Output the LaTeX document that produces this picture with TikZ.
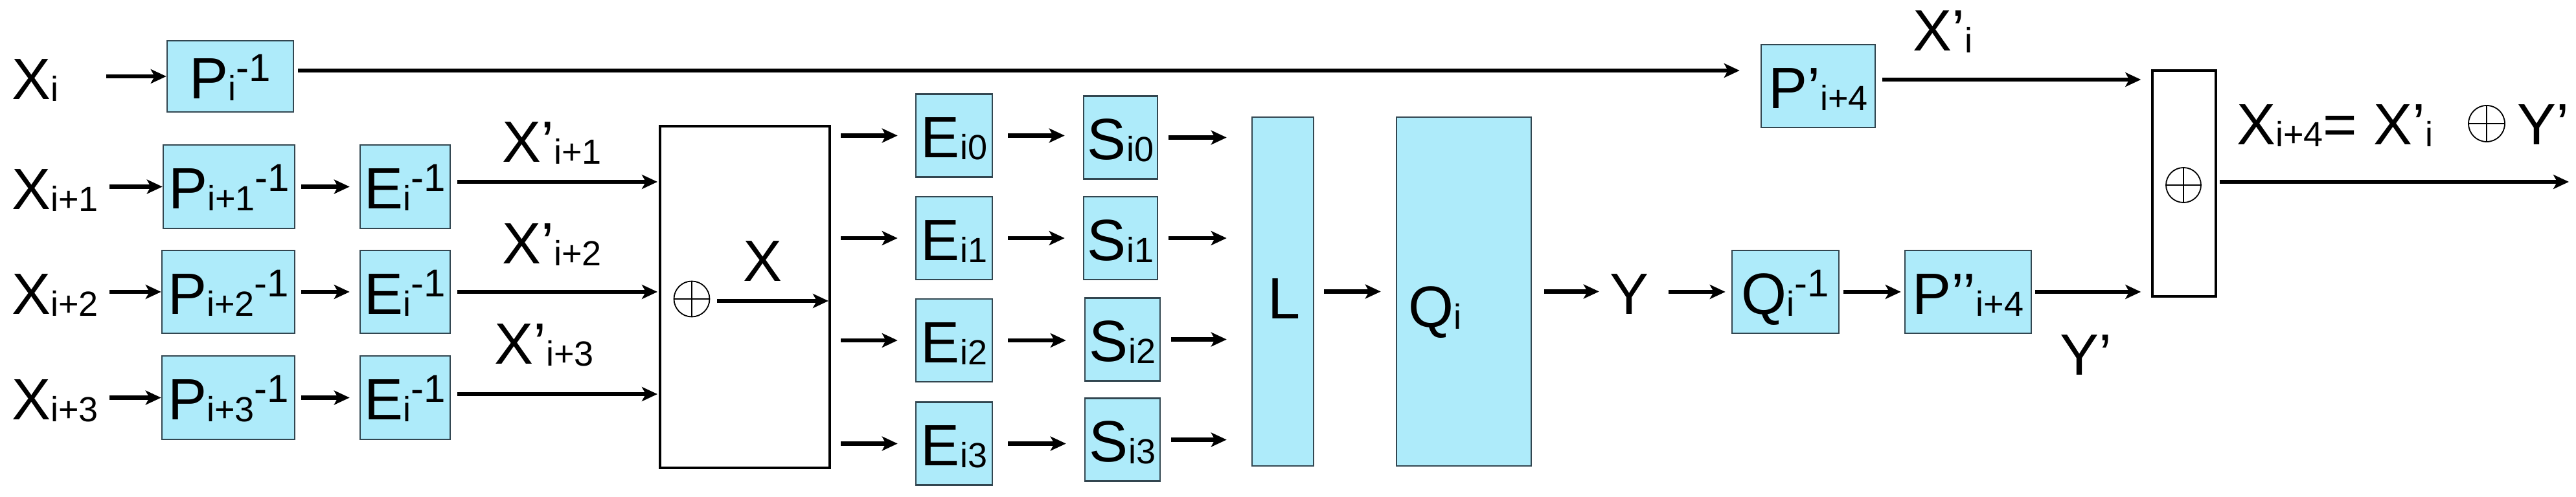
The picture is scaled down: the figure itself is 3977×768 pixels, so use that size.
\documentclass[tikz,border=0pt]{standalone}
\usepackage{fontspec}
\setmainfont{Liberation Sans}
\usetikzlibrary{arrows.meta}
\definecolor{boxfill}{RGB}{174,235,250}
\definecolor{boxline}{RGB}{50,70,80}
\newcommand{\mysub}[1]{\raisebox{-3pt}{\fontsize{54}{60}\selectfont #1}}
\newcommand{\mysup}[1]{\raisebox{27pt}{\fontsize{60}{66}\selectfont #1}}
\tikzset{
  bigfont/.style={font=\fontsize{90}{100}\selectfont},
  txt/.style={bigfont, inner sep=0pt},
  cbox/.style={draw=boxline, fill=boxfill, line width=2.5pt, inner sep=0pt,
    text height=68pt, text depth=0pt, bigfont},
  wbox/.style={draw=black, fill=white, inner sep=0pt},
  arr/.style={line width=6.5pt, -{Stealth[length=24pt,width=22pt,inset=6pt]}},
  xorc/.style={circle, draw=black, line width=1.8pt, minimum size=#1, inner sep=0pt,
    path picture={\draw[line width=2.2pt]
      (path picture bounding box.north) -- (path picture bounding box.south)
      (path picture bounding box.west) -- (path picture bounding box.east);}}
}
\begin{document}
\begin{tikzpicture}[x=1pt,y=-1pt]
\fill[white] (0,0) rectangle (3977,768);
\useasboundingbox (0,0) rectangle (3977,768);

% input labels
\node[txt, anchor=base west] (xi)  at (18,153) {X\mysub{i}};
\node[txt, anchor=base west] (xi1) at (18,323) {X\mysub{i+1}};
\node[txt, anchor=base west] (xi2) at (18,485) {X\mysub{i+2}};
\node[txt, anchor=base west] (xi3) at (18,648) {X\mysub{i+3}};

% P boxes
\node[cbox, minimum width=195pt, minimum height=110pt] (pi) at (355.5,118) {P\mysub{i}\mysup{-1}};
\node[cbox, minimum width=203pt, minimum height=129pt] (p1) at (353.5,288.5) {P\mysub{i+1}\mysup{-1}};
\node[cbox, minimum width=205pt, minimum height=128pt] (p2) at (352.5,451) {P\mysub{i+2}\mysup{-1}};
\node[cbox, minimum width=205pt, minimum height=129pt] (p3) at (352.5,614.5) {P\mysub{i+3}\mysup{-1}};

% E inverse boxes
\node[cbox, minimum width=139pt, minimum height=129pt] (e1) at (625.5,288.5) {E\mysub{i}\mysup{-1}};
\node[cbox, minimum width=139pt, minimum height=128pt] (e2) at (625.5,451) {E\mysub{i}\mysup{-1}};
\node[cbox, minimum width=139pt, minimum height=129pt] (e3) at (625.5,614.5) {E\mysub{i}\mysup{-1}};

% X' labels
\node[txt, anchor=base west] (lx1) at (775,250) {X’\mysub{i+1}};
\node[txt, anchor=base west] (lx2) at (775,407) {X’\mysub{i+2}};
\node[txt, anchor=base west] (lx3) at (763,562) {X’\mysub{i+3}};

% big xor box
\node[wbox, line width=4pt, minimum width=262pt, minimum height=528pt] (big) at (1150,459) {};
\node[xorc=55pt] (xor1) at (1068,462) {};
\node[txt, anchor=base] (lxx) at (1177,434) {X};

% E_ij and S_ij boxes
\node[cbox, minimum width=118pt, minimum height=128pt] (ei0) at (1473,209.5) {E\mysub{i0}};
\node[cbox, minimum width=118pt, minimum height=128pt] (ei1) at (1473,368) {E\mysub{i1}};
\node[cbox, minimum width=118pt, minimum height=128pt] (ei2) at (1473,526) {E\mysub{i2}};
\node[cbox, minimum width=118pt, minimum height=128pt] (ei3) at (1473,685.5) {E\mysub{i3}};
\node[cbox, minimum width=114pt, minimum height=128pt] (si0) at (1730,212.5) {S\mysub{i0}};
\node[cbox, minimum width=114pt, minimum height=128pt] (si1) at (1730,368) {S\mysub{i1}};
\node[cbox, minimum width=116pt, minimum height=128pt] (si2) at (1733,524.5) {S\mysub{i2}};
\node[cbox, minimum width=116pt, minimum height=128pt] (si3) at (1733,679.5) {S\mysub{i3}};

% L and Q
\node[cbox, minimum width=95pt, minimum height=539pt] (L) at (1980.5,450.5) {};
\node[txt, anchor=base] (lL) at (1983,492) {L};
\node[cbox, minimum width=208pt, minimum height=539pt] (Q) at (2260,450.5) {};
\node[txt, anchor=base west] (lQ) at (2174,505) {Q\mysub{i}};

% Y, Q^-1, P''
\node[txt, anchor=base] (y) at (2515,485) {Y};
\node[cbox, minimum width=165pt, minimum height=128pt] (qinv) at (2756.5,451) {Q\mysub{i}\mysup{-1}};
\node[cbox, minimum width=195pt, minimum height=128pt] (ppp) at (3038.5,451) {P’’\mysub{i+4}};
\node[txt, anchor=base west] (ly) at (3180,579) {Y’};

% P' top
\node[cbox, minimum width=176pt, minimum height=128pt] (pp) at (2807,133) {P’\mysub{i+4}};
\node[txt, anchor=base west] (lxp) at (2953,78) {X’\mysub{i}};

% right xor box
\node[wbox, line width=3.5pt, minimum width=98pt, minimum height=349pt] (right) at (3372,283.5) {};
\node[xorc=54pt] (xor2) at (3371,286) {};

% result label
\node[txt, anchor=base west] (res1) at (3453,223) {X\mysub{i+4}= X’\mysub{i}};
\node[xorc=56pt] (xor3) at (3839,191) {};
\node[txt, anchor=base west] (res2) at (3886,223) {Y’};
\coordinate (out) at (3966,281);

% connectors: inputs
\draw[arr] ([xshift=-93pt]pi.west) -- (pi.west);
\draw[arr] ([xshift=-82pt]p1.west) -- (p1.west);
\draw[arr] ([xshift=-80pt]p2.west) -- (p2.west);
\draw[arr] ([xshift=-80pt]p3.west) -- (p3.west);
% P -> E
\draw[arr] ([xshift=9pt]p1.east) -- ([xshift=-15pt]e1.west);
\draw[arr] ([xshift=9pt]p2.east) -- ([xshift=-15pt]e2.west);
\draw[arr] ([xshift=9pt]p3.east) -- ([xshift=-15pt]e3.west);
% E -> big box
\draw[arr] ([xshift=10pt,yshift=7.5pt]e1.east) -- ([xshift=-2pt,yshift=7.5pt]big.west |- e1.east);
\draw[arr] ([xshift=10pt]e2.east) -- ([xshift=-2pt]big.west |- e2.east);
\draw[arr] ([xshift=10pt,yshift=5.5pt]e3.east) -- ([xshift=-2pt,yshift=5.5pt]big.west |- e3.east);
% inside big box
\draw[arr] ([xshift=11pt,yshift=-3pt]xor1.east) -- ([xshift=-4pt,yshift=-6pt]big.east);
% big -> Eij
\foreach \k in {0,1,2,3}{
  \draw[arr] ([xshift=15pt]big.east |- ei\k.west) -- ([xshift=-27pt]ei\k.west);
  \draw[arr] ([xshift=23pt]ei\k.east) -- ([xshift=-28pt]si\k.west |- ei\k.east);
  \draw[arr] ([xshift=16pt]si\k.east) -- ([xshift=-38pt]L.west |- si\k.east);
}
% L -> Q -> Y -> Qinv -> P''
\draw[arr] ([xshift=15pt]L.east) -- ([xshift=-23pt]Q.west);
\draw[arr] ([xshift=19pt]Q.east) -- ([xshift=-16pt]y.west |- Q.east);
\draw[arr] ([xshift=31pt]y.east |- qinv.west) -- ([xshift=-9pt]qinv.west);
\draw[arr] ([xshift=6pt]qinv.east) -- ([xshift=-5pt]ppp.west);
\draw[arr] ([xshift=5pt]ppp.east) -- ([xshift=-16pt]right.west |- ppp.east);
% top line
\draw[arr] ([xshift=6pt,yshift=9pt]pi.east) -- ([xshift=-32pt,yshift=9pt]pp.west |- pi.east);
\draw[arr] ([xshift=10pt,yshift=10pt]pp.east) -- ([xshift=-16pt,yshift=10pt]right.west |- pp.east);
% output
\draw[arr] ([xshift=4pt]right.east |- out) -- (out);
\end{tikzpicture}
\end{document}
